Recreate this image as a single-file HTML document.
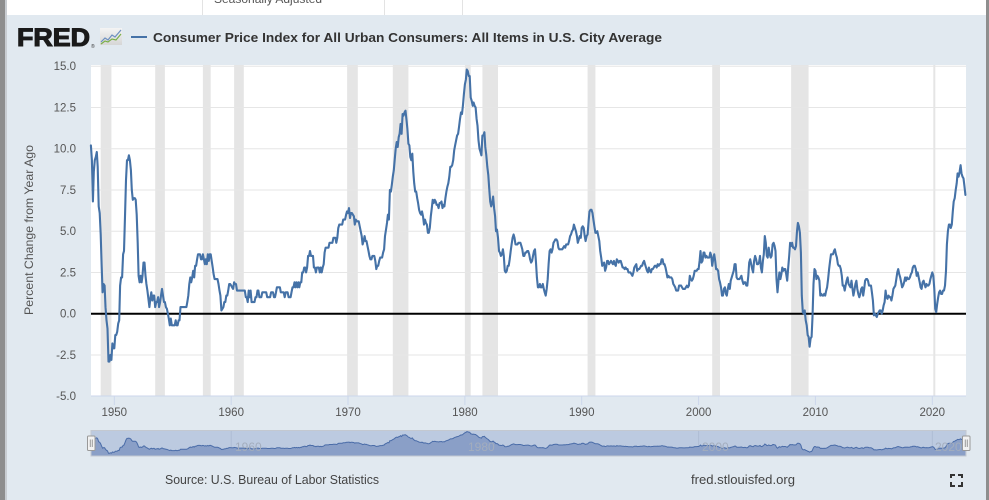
<!DOCTYPE html>
<html><head><meta charset="utf-8">
<style>
html,body{margin:0;padding:0;width:989px;height:500px;overflow:hidden;background:#e1e9f0}
svg{display:block}
text{font-family:"Liberation Sans",sans-serif}
</style></head>
<body>
<svg width="989" height="500" viewBox="0 0 989 500" xmlns="http://www.w3.org/2000/svg">
<rect width="989" height="500" fill="#e1e9f0"/>
<rect x="7" y="0" width="979" height="15" fill="#ffffff"/>
<line x1="202.5" y1="0" x2="202.5" y2="15" stroke="#e3e3e3"/>
<line x1="384.5" y1="0" x2="384.5" y2="15" stroke="#e3e3e3"/>
<line x1="462.5" y1="0" x2="462.5" y2="15" stroke="#e3e3e3"/>
<text x="214" y="3" font-size="12" fill="#555">Seasonally Adjusted</text>
<rect x="0" y="0" width="5" height="500" fill="#8e8e8e"/>
<rect x="5" y="0" width="2" height="500" fill="#c9cdd2"/>
<rect x="986" y="0" width="3" height="500" fill="#8e8e8e"/>

<text x="17" y="46" font-size="25" font-weight="bold" fill="#1a1a1a" stroke="#1a1a1a" stroke-width="1.1" textLength="73" lengthAdjust="spacingAndGlyphs">FRED</text>
<text x="91" y="48" font-size="5" fill="#333">®</text>
<defs><linearGradient id="ig" x1="0" y1="0" x2="0" y2="1"><stop offset="0" stop-color="#f4f4f4"/><stop offset="1" stop-color="#d6d6d6"/></linearGradient></defs>
<rect x="100" y="28" width="22" height="17" fill="url(#ig)"/>
<polyline points="101,42 105,38 108,40 112,35 115,37 121,30" fill="none" stroke="#6c8fc0" stroke-width="1.2"/>
<polyline points="101,44 105,41 108,42 112,39 116,40 121,34" fill="none" stroke="#7ab04a" stroke-width="1.2"/>
<line x1="131" y1="37" x2="147" y2="37" stroke="#4572a7" stroke-width="2"/>
<text x="153" y="42" font-size="13" font-weight="bold" fill="#333" textLength="509" lengthAdjust="spacingAndGlyphs">Consumer Price Index for All Urban Consumers: All Items in U.S. City Average</text>

<rect x="91" y="65" width="875" height="331" fill="#ffffff"/>
<g id="bands" fill="#e5e5e5"></g>
<g stroke="#e6e6e6" stroke-width="1">
<line x1="91" y1="66.2" x2="966" y2="66.2"/>
<line x1="91" y1="107.45" x2="966" y2="107.45"/>
<line x1="91" y1="148.7" x2="966" y2="148.7"/>
<line x1="91" y1="189.95" x2="966" y2="189.95"/>
<line x1="91" y1="231.2" x2="966" y2="231.2"/>
<line x1="91" y1="272.45" x2="966" y2="272.45"/>
<line x1="91" y1="354.95" x2="966" y2="354.95"/>
</g>
<line x1="91" y1="313.7" x2="966" y2="313.7" stroke="#000" stroke-width="2"/>
<line x1="91" y1="396" x2="966" y2="396" stroke="#ccd6eb" stroke-width="1"/>
<g stroke="#ccd6eb" stroke-width="1">
<line x1="114.3" y1="396" x2="114.3" y2="405"/>
<line x1="231.2" y1="396" x2="231.2" y2="405"/>
<line x1="348.0" y1="396" x2="348.0" y2="405"/>
<line x1="464.9" y1="396" x2="464.9" y2="405"/>
<line x1="581.7" y1="396" x2="581.7" y2="405"/>
<line x1="698.6" y1="396" x2="698.6" y2="405"/>
<line x1="815.4" y1="396" x2="815.4" y2="405"/>
<line x1="932.3" y1="396" x2="932.3" y2="405"/>
</g>
<path id="line" d="" fill="none" stroke="#4572a7" stroke-width="2.1" stroke-linejoin="round" stroke-linecap="round"/>

<g font-size="11.5" fill="#555" text-anchor="end">
<text x="76" y="70">15.0</text>
<text x="76" y="111.3">12.5</text>
<text x="76" y="152.5">10.0</text>
<text x="76" y="193.8">7.5</text>
<text x="76" y="235">5.0</text>
<text x="76" y="276.3">2.5</text>
<text x="76" y="317.5">0.0</text>
<text x="76" y="358.8">-2.5</text>
<text x="76" y="400">-5.0</text>
</g>
<text transform="translate(33,230) rotate(-90)" font-size="12" fill="#555" text-anchor="middle" textLength="170" lengthAdjust="spacingAndGlyphs">Percent Change from Year Ago</text>

<g font-size="11.5" fill="#555" text-anchor="middle">
<text x="114.3" y="416">1950</text>
<text x="231.2" y="416">1960</text>
<text x="348.0" y="416">1970</text>
<text x="464.9" y="416">1980</text>
<text x="581.7" y="416">1990</text>
<text x="698.6" y="416">2000</text>
<text x="815.4" y="416">2010</text>
<text x="932.3" y="416">2020</text>
</g>

<rect x="91" y="431" width="875" height="25" fill="#bccae0"/>
<g stroke="#aebcd4" stroke-width="1">
<line x1="231.2" y1="431" x2="231.2" y2="456"/>
<line x1="464.9" y1="431" x2="464.9" y2="456"/>
<line x1="698.6" y1="431" x2="698.6" y2="456"/>
<line x1="932.3" y1="431" x2="932.3" y2="456"/>
</g>
<path id="navArea" d="" fill="#8a9fc7" stroke="none"/>
<path id="navLine" d="" fill="none" stroke="#4a6ca8" stroke-width="1"/>
<g font-size="12" fill="#a3adbd">
<text x="235" y="451">1960</text>
<text x="468" y="451">1980</text>
<text x="702" y="451">2000</text>
<text x="935" y="451">2020</text>
</g>
<rect x="91" y="430.5" width="875" height="25.5" fill="none" stroke="#c3c8d0" stroke-width="1"/>
<rect x="87.5" y="436" width="7.5" height="14.5" rx="1" fill="#f2f2f2" stroke="#999" stroke-width="1"/>
<line x1="90.3" y1="439.5" x2="90.3" y2="447" stroke="#999"/>
<line x1="92.3" y1="439.5" x2="92.3" y2="447" stroke="#999"/>
<rect x="962.5" y="436" width="7.5" height="14.5" rx="1" fill="#f2f2f2" stroke="#999" stroke-width="1"/>
<line x1="965.3" y1="439.5" x2="965.3" y2="447" stroke="#999"/>
<line x1="967.3" y1="439.5" x2="967.3" y2="447" stroke="#999"/>

<text x="165" y="484" font-size="13" fill="#444" textLength="214" lengthAdjust="spacingAndGlyphs">Source: U.S. Bureau of Labor Statistics</text>
<text x="691" y="484" font-size="13" fill="#444" textLength="104" lengthAdjust="spacingAndGlyphs">fred.stlouisfed.org</text>
<g stroke="#333" stroke-width="2" fill="none">
<polyline points="951,478 951,475 955,475"/>
<polyline points="958,475 962,475 962,478"/>
<polyline points="951,482 951,486 955,486"/>
<polyline points="958,486 962,486 962,482"/>
</g>
</svg>
<script>
const D={
1948:[10.2,9.3,6.8,8.6,9.3,9.5,9.8,8.9,6.5,6.1,4.8,3.0],
1949:[1.3,1.8,1.7,0.4,-0.4,-0.9,-2.9,-2.9,-2.5,-2.8,-1.8,-2.1],
1950:[-2.1,-1.3,-1.3,-1.1,-0.6,-0.4,1.7,2.2,2.2,3.6,3.8,5.9],
1951:[8.1,9.3,9.3,9.6,9.3,8.7,7.5,6.9,7.0,7.0,6.9,6.0],
1952:[4.3,2.3,1.9,2.3,1.9,2.3,3.1,3.1,2.3,1.8,1.4,0.9],
1953:[0.4,0.9,1.3,0.8,1.1,1.1,0.4,0.7,0.7,1.0,0.4,0.7],
1954:[1.1,1.5,1.1,0.7,0.7,0.4,0.3,0.0,-0.3,-0.7,-0.3,-0.7],
1955:[-0.7,-0.7,-0.7,-0.4,-0.7,-0.7,-0.4,-0.4,0.4,0.4,0.4,0.4],
1956:[0.4,0.4,0.4,0.7,1.1,1.8,2.2,1.9,2.2,2.6,2.2,2.9],
1957:[2.9,3.3,3.6,3.6,3.6,3.3,3.3,3.6,3.3,3.0,3.3,3.0],
1958:[3.6,3.2,3.6,3.6,3.2,2.8,2.4,2.1,2.1,2.1,2.1,1.8],
1959:[1.4,1.1,0.2,0.3,0.4,0.7,0.7,1.1,1.1,1.4,1.8,1.8],
1960:[1.7,1.6,1.5,1.9,1.8,1.8,1.4,1.4,1.4,1.4,1.4,1.4],
1961:[1.4,1.4,1.4,1.0,1.0,0.7,1.4,1.0,1.4,0.7,0.7,0.7],
1962:[0.7,1.0,1.0,1.4,1.4,1.0,1.0,1.0,1.3,1.3,1.3,1.3],
1963:[1.3,1.0,1.0,1.0,1.0,1.3,1.3,1.3,1.0,1.0,1.3,1.6],
1964:[1.6,1.6,1.6,1.3,1.3,1.3,1.3,1.0,1.3,1.3,1.3,1.0],
1965:[1.0,1.0,1.3,1.6,1.6,1.9,1.6,1.9,1.6,1.9,1.6,1.9],
1966:[1.9,2.5,2.5,2.8,2.8,2.5,2.8,3.5,3.5,3.8,3.5,3.5],
1967:[3.5,2.8,2.8,2.5,2.8,2.8,2.8,2.5,2.8,2.5,2.8,3.0],
1968:[3.7,4.0,4.0,4.0,4.0,4.3,4.3,4.3,4.3,4.6,4.6,4.6],
1969:[4.3,4.6,5.2,5.4,5.4,5.4,5.4,5.7,5.7,5.7,6.0,6.2],
1970:[6.1,6.4,5.8,6.1,6.1,6.0,5.9,5.4,5.7,5.6,5.6,5.6],
1971:[5.3,5.0,4.7,4.2,4.4,4.7,4.4,4.4,4.1,3.8,3.5,3.3],
1972:[3.3,3.5,3.5,3.5,3.2,2.7,2.9,2.9,3.2,3.4,3.4,3.4],
1973:[3.7,3.9,4.7,5.1,5.5,6.0,5.7,7.5,7.4,7.8,8.3,8.7],
1974:[9.4,10.0,10.4,10.1,10.7,10.9,11.5,10.9,12.1,12.0,12.2,12.3],
1975:[11.8,11.2,10.3,10.2,9.5,9.3,9.7,8.6,7.9,7.4,7.4,7.0],
1976:[6.7,6.3,6.1,6.0,6.2,5.9,5.4,5.7,5.5,5.4,4.9,4.9],
1977:[5.2,5.9,6.4,6.9,6.7,6.9,6.8,6.6,6.6,6.4,6.7,6.7],
1978:[6.8,6.4,6.6,6.5,7.0,7.4,7.7,7.9,8.3,8.9,8.9,9.0],
1979:[9.3,9.9,10.2,10.5,10.8,10.9,11.3,11.8,12.2,12.1,12.6,13.3],
1980:[13.9,14.2,14.8,14.7,14.4,14.4,13.1,12.9,12.6,12.8,12.6,12.5],
1981:[11.8,11.4,10.5,10.0,9.8,9.6,10.8,10.8,11.0,10.1,9.6,8.9],
1982:[8.4,7.6,6.8,6.5,6.7,7.1,6.4,5.9,5.0,5.1,4.6,3.8],
1983:[3.7,3.5,3.6,3.9,3.5,2.6,2.5,2.6,2.9,2.9,3.3,3.8],
1984:[4.2,4.6,4.8,4.6,4.2,4.2,4.2,4.3,4.3,4.3,4.1,3.9],
1985:[3.5,3.5,3.7,3.7,3.8,3.8,3.6,3.3,3.1,3.2,3.5,3.8],
1986:[3.9,3.1,2.2,1.6,1.6,1.8,1.6,1.6,1.8,1.5,1.3,1.1],
1987:[1.5,2.1,3.0,3.8,3.9,3.7,3.9,4.3,4.4,4.5,4.5,4.4],
1988:[4.0,3.9,3.9,3.9,3.9,4.0,4.1,4.0,4.2,4.2,4.2,4.4],
1989:[4.7,4.8,5.0,5.1,5.4,5.2,5.0,4.7,4.3,4.5,4.7,4.6],
1990:[5.2,5.3,5.2,4.7,4.4,4.7,4.8,5.6,6.2,6.3,6.3,6.1],
1991:[5.7,5.3,4.9,4.9,5.0,4.7,4.4,3.8,3.4,2.9,3.0,3.1],
1992:[2.6,2.8,3.2,3.2,3.0,3.1,3.2,3.1,3.0,3.2,3.0,2.9],
1993:[3.3,3.2,3.1,3.2,3.2,3.0,2.8,2.8,2.7,2.8,2.7,2.7],
1994:[2.5,2.5,2.5,2.4,2.3,2.5,2.8,2.9,3.0,2.6,2.7,2.7],
1995:[2.8,2.9,2.9,3.1,3.2,3.0,2.8,2.6,2.5,2.8,2.6,2.5],
1996:[2.7,2.7,2.8,2.9,2.9,2.8,3.0,2.9,3.0,3.0,3.3,3.3],
1997:[3.0,3.0,2.8,2.5,2.2,2.3,2.2,2.2,2.2,2.1,1.8,1.7],
1998:[1.6,1.4,1.4,1.4,1.7,1.7,1.7,1.6,1.5,1.5,1.5,1.6],
1999:[1.7,1.6,1.7,2.3,2.1,2.0,2.1,2.3,2.6,2.6,2.6,2.7],
2000:[2.7,3.2,3.8,3.1,3.2,3.7,3.7,3.4,3.5,3.4,3.4,3.4],
2001:[3.7,3.5,2.9,3.3,3.6,3.2,2.7,2.7,2.6,2.1,1.9,1.6],
2002:[1.1,1.1,1.5,1.6,1.2,1.1,1.5,1.8,1.5,2.0,2.2,2.4],
2003:[2.6,3.0,3.0,2.2,2.1,2.1,2.1,2.2,2.3,2.0,1.8,1.9],
2004:[1.9,1.7,1.7,2.3,3.1,3.3,3.0,2.7,2.5,3.2,3.5,3.3],
2005:[3.0,3.0,3.1,3.5,2.8,2.5,3.2,3.6,4.7,4.3,3.5,3.4],
2006:[4.0,3.6,3.4,3.5,4.2,4.3,4.1,3.8,2.1,1.3,2.0,2.5],
2007:[2.1,2.4,2.8,2.6,2.7,2.7,2.4,2.0,2.8,3.5,4.3,4.1],
2008:[4.3,4.0,4.0,3.9,4.1,5.0,5.5,5.3,4.9,3.7,1.1,0.1],
2009:[0.0,0.2,-0.4,-0.7,-1.3,-1.4,-2.0,-1.5,-1.4,-0.2,1.8,2.7],
2010:[2.6,2.1,2.3,2.2,2.0,1.1,1.2,1.1,1.1,1.2,1.1,1.4],
2011:[1.6,2.1,2.7,3.2,3.6,3.6,3.6,3.8,3.9,3.6,3.4,3.0],
2012:[2.9,2.9,2.7,2.3,1.7,1.7,1.4,1.7,2.0,2.2,1.8,1.7],
2013:[1.6,2.0,1.5,1.1,1.4,1.8,2.0,1.5,1.2,1.0,1.2,1.5],
2014:[1.6,1.1,1.5,2.0,2.1,2.1,2.0,1.7,1.7,1.7,1.3,0.8],
2015:[-0.1,0.0,-0.1,-0.2,0.0,0.1,0.2,0.2,0.0,0.2,0.5,0.7],
2016:[1.4,1.0,0.9,1.1,1.0,1.0,0.8,1.1,1.5,1.6,1.7,2.1],
2017:[2.5,2.7,2.4,2.2,1.9,1.6,1.7,1.9,2.2,2.0,2.2,2.1],
2018:[2.1,2.2,2.4,2.5,2.8,2.9,2.9,2.7,2.3,2.5,2.2,1.9],
2019:[1.6,1.5,1.9,2.0,1.8,1.6,1.8,1.7,1.7,1.8,2.1,2.3],
2020:[2.5,2.3,1.5,0.3,0.1,0.6,1.0,1.3,1.4,1.2,1.2,1.4],
2021:[1.4,1.7,2.6,4.2,5.0,5.4,5.4,5.2,5.4,6.2,6.8,7.0],
2022:[7.5,7.9,8.5,8.3,8.6,9.0,8.5,8.3,8.2,7.7,7.2]
};
const X=t=>114.3+(t-1950)*11.686;
const Y=v=>313.7-v*16.5;
const NY=v=>453.3-(v+2.9)*1.22;
const pts=[];
for(let y=1948;y<=2022;y++){const a=D[y];for(let m=0;m<a.length;m++)pts.push([y+m/12,a[m]]);}
let d='',nd='';
pts.forEach((p,i)=>{const c=i?'L':'M';d+=c+X(p[0]).toFixed(1)+' '+Y(p[1]).toFixed(1);nd+=c+X(p[0]).toFixed(1)+' '+NY(p[1]).toFixed(1);});
document.getElementById('line').setAttribute('d',d);
document.getElementById('navLine').setAttribute('d',nd);
const lastX=X(pts[pts.length-1][0]).toFixed(1);
document.getElementById('navArea').setAttribute('d',nd+'L'+lastX+' 456L'+X(1948).toFixed(1)+' 456Z');
const B=[[1948.833,1949.75],[1953.5,1954.333],[1957.583,1958.25],[1960.25,1961.083],[1969.917,1970.833],[1973.833,1975.167],[1980.0,1980.5],[1981.5,1982.833],[1990.5,1991.167],[2001.167,2001.833],[2007.917,2009.417],[2020.083,2020.25]];
const g=document.getElementById('bands');
B.forEach(b=>{const r=document.createElementNS('http://www.w3.org/2000/svg','rect');const x1=X(b[0]),x2=X(b[1]);r.setAttribute('x',x1.toFixed(1));r.setAttribute('y','65');r.setAttribute('width',Math.max(2,x2-x1).toFixed(1));r.setAttribute('height','331');g.appendChild(r);});
</script>
</body></html>
